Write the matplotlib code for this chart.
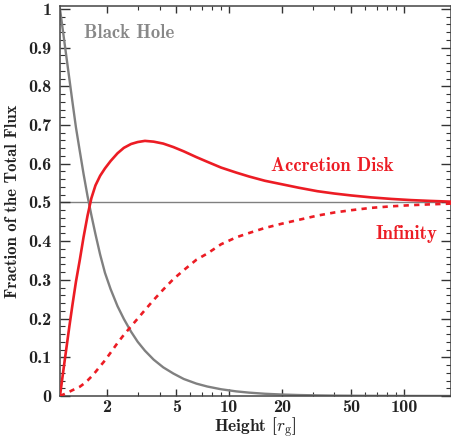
import matplotlib
matplotlib.use("Agg")
import matplotlib.pyplot as plt
from matplotlib.ticker import FixedLocator, FixedFormatter, NullFormatter

# ---- data ----
height = [1.078, 1.10, 1.13, 1.17, 1.22, 1.27, 1.33, 1.40, 1.47, 1.55, 1.63, 1.72,
          1.83, 1.95, 2.1, 2.3, 2.5, 2.75, 3.0, 3.3, 3.7, 4.2, 4.8, 5.5, 6.5, 7.5,
          9, 11, 13, 16, 20, 25, 32, 40, 50, 65, 85, 110, 140, 186]
black_hole = [1.0, 0.970, 0.931, 0.880, 0.819, 0.760, 0.694, 0.632, 0.574, 0.516,
              0.467, 0.418, 0.365, 0.318, 0.276, 0.232, 0.199, 0.166, 0.140, 0.117,
              0.094, 0.074, 0.058, 0.044, 0.032, 0.0245, 0.0174, 0.0119, 0.0087, 0.0058,
              0.0038, 0.0025, 0.0016, 0.0010, 0.0007, 0.0004, 0.00025, 0.00015, 0.0001, 0.00006]
accretion_disk = [0.0, 0.03, 0.07, 0.12, 0.18, 0.235, 0.295, 0.352, 0.410, 0.466,
                  0.511, 0.544, 0.569, 0.588, 0.607, 0.627, 0.641, 0.651, 0.656, 0.659,
                  0.657, 0.652, 0.643, 0.632, 0.617, 0.605, 0.590, 0.577, 0.567, 0.556,
                  0.547, 0.538, 0.529, 0.523, 0.518, 0.513, 0.509, 0.506, 0.504, 0.502]
infinity = [0.0, 0.002, 0.004, 0.007, 0.011, 0.015, 0.019, 0.024, 0.031, 0.040,
            0.050, 0.062, 0.077, 0.092, 0.112, 0.137, 0.158, 0.180, 0.200, 0.222,
            0.248, 0.275, 0.302, 0.325, 0.352, 0.368, 0.392, 0.410, 0.421, 0.434,
            0.445, 0.455, 0.466, 0.474, 0.480, 0.486, 0.490, 0.493, 0.495, 0.497]

xticks = [2, 5, 10, 20, 50, 100]
xtick_labels = ["2", "5", "10", "20", "50", "100"]
yticks = [0, 0.1, 0.2, 0.3, 0.4, 0.5, 0.6, 0.7, 0.8, 0.9, 1.0]
ytick_labels = ["0", "0.1", "0.2", "0.3", "0.4", "0.5", "0.6", "0.7", "0.8", "0.9", "1"]

# ---- style ----
plt.rcParams["font.family"] = ["cmb10", "DejaVu Serif"]
plt.rcParams["mathtext.fontset"] = "cm"
plt.rcParams["axes.unicode_minus"] = False
plt.rcParams["axes.formatter.use_mathtext"] = True

RED = "#ec1c24"
GRAY = "#808080"
DARK = "#333333"

fig = plt.figure(figsize=(4.52, 4.40), dpi=100)
ax = fig.add_axes([0.1327, 0.1000, 0.8653, 0.8860])

ax.axhline(0.5, color=GRAY, lw=1.0, zorder=1)
ax.plot(height, black_hole, color=GRAY, lw=1.7, zorder=2)
ax.plot(height, accretion_disk, color=RED, lw=1.9, zorder=3)
ax.plot(height, infinity, color=RED, lw=1.9, ls=(0, (2.0, 2.0)), zorder=3)

ax.set_xscale("log")
ax.set_xlim(1.078, 186)
ax.set_ylim(0, 1.007)

ax.xaxis.set_major_locator(FixedLocator(xticks))
ax.xaxis.set_major_formatter(FixedFormatter(xtick_labels))
ax.xaxis.set_minor_formatter(NullFormatter())
ax.set_yticks(yticks)
ax.set_yticklabels(ytick_labels)
ax.set_yticks([i * 0.02 for i in range(51)], minor=True)

ax.tick_params(which="both", direction="in", top=True, right=True,
               colors=DARK, labelcolor="#222222", labelsize=13)
ax.tick_params(axis="y", which="major", length=7, width=1.0, pad=6)
ax.tick_params(axis="y", which="minor", length=3.5, width=0.8)
ax.tick_params(axis="x", which="major", length=5, width=1.0, pad=3)
ax.tick_params(axis="x", which="minor", length=3, width=0.8)

for s in ax.spines.values():
    s.set_color("#444444")
    s.set_linewidth(1.1)

ax.set_xlabel(r"Height [$r_{\mathrm{g}}$]", fontsize=12.5, color="#222222", labelpad=0)
ax.set_ylabel("Fraction of the Total Flux", fontsize=12, color="#222222", labelpad=6)

ax.text(2.69, 0.937, "Black Hole", color="#888888", fontsize=13.5, ha="center", va="center")
ax.text(39, 0.595, "Accretion Disk", color=RED, fontsize=13.5, ha="center", va="center")
ax.text(103, 0.418, "Infinity", color=RED, fontsize=13.5, ha="center", va="center")

fig.savefig("out.png", dpi=100)
